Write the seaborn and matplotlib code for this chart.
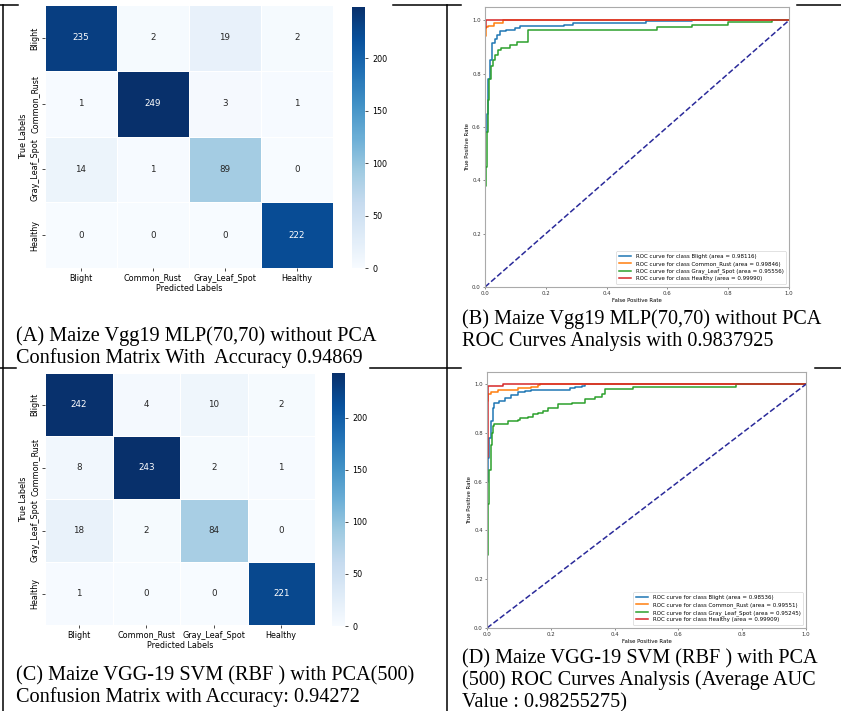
import numpy as np
import seaborn as sns
import matplotlib
matplotlib.use("Agg")
import matplotlib.pyplot as plt
from matplotlib.lines import Line2D

W, H = 841, 711

classes = ["Blight", "Common_Rust", "Gray_Leaf_Spot", "Healthy"]

# confusion matrices
cm_a = [[235, 2, 19, 2],
        [1, 249, 3, 1],
        [14, 1, 89, 0],
        [0, 0, 0, 222]]
cm_c = [[242, 4, 10, 2],
        [8, 243, 2, 1],
        [18, 2, 84, 0],
        [1, 0, 0, 221]]

# ROC curves, panel B (fpr, tpr breakpoints)
b_blight_fpr = [0, 0, 0.005, 0.011, 0.016, 0.022, 0.033, 0.038, 0.049, 0.07, 0.098, 0.115, 0.26, 0.29, 0.53, 0.68, 1.0]
b_blight_tpr = [0, 0.58, 0.65, 0.78, 0.85, 0.915, 0.93, 0.946, 0.96, 0.965, 0.97, 0.98, 0.984, 0.99, 0.996, 1.0, 1.0]
b_rust_fpr = [0, 0, 0.003, 0.01, 0.03, 0.06, 1.0]
b_rust_tpr = [0, 0.94, 0.975, 0.98, 0.99, 1.0, 1.0]
b_gray_fpr = [0, 0, 0.003, 0.005, 0.011, 0.014, 0.02, 0.025, 0.033, 0.044, 0.051, 0.082, 0.104, 0.142, 0.566, 0.68, 0.80, 0.945, 1.0]
b_gray_tpr = [0, 0.38, 0.45, 0.58, 0.70, 0.78, 0.83, 0.85, 0.87, 0.89, 0.896, 0.909, 0.92, 0.962, 0.974, 0.984, 0.9925, 1.0, 1.0]
b_healthy_fpr = [0, 0, 0.003, 0.004, 1.0]
b_healthy_tpr = [0, 0.97, 0.99, 1.0, 1.0]
b_auc = [0.98116, 0.99846, 0.95556, 0.99990]

# ROC curves, panel D
d_blight_fpr = [0, 0, 0.002, 0.007, 0.013, 0.018, 0.023, 0.039, 0.055, 0.076, 0.097, 0.118, 0.139, 0.26, 0.276, 0.297, 0.307, 1.0]
d_blight_tpr = [0, 0.6, 0.697, 0.78, 0.848, 0.903, 0.924, 0.93, 0.945, 0.956, 0.966, 0.972, 0.977, 0.983, 0.989, 0.993, 1.0, 1.0]
d_rust_fpr = [0, 0, 0.004, 0.013, 0.034, 0.097, 0.139, 0.16, 0.166, 1.0]
d_rust_tpr = [0, 0.93, 0.96, 0.97, 0.977, 0.983, 0.99, 0.997, 1.0, 1.0]
d_gray_fpr = [0, 0, 0.002, 0.005, 0.011, 0.015, 0.018, 0.023, 0.065, 0.097, 0.102, 0.129, 0.144, 0.16, 0.176, 0.192, 0.223, 0.265, 0.307, 0.339, 0.36, 0.37, 0.457, 0.78, 1.0]
d_gray_tpr = [0, 0.30, 0.51, 0.65, 0.75, 0.80, 0.83, 0.837, 0.848, 0.855, 0.862, 0.866, 0.876, 0.883, 0.89, 0.903, 0.917, 0.924, 0.938, 0.948, 0.959, 0.979, 0.99, 1.0, 1.0]
d_healthy_fpr = [0, 0, 0.002, 0.004, 0.049, 1.0]
d_healthy_tpr = [0, 0.70, 0.93, 0.993, 1.0, 1.0]
d_auc = [0.98536, 0.99551, 0.95245, 0.99909]

diag = [0.0, 1.0]
roc_colors = ["#1f77b4", "#ff7f0e", "#2ca02c", "#d62728"]

cap_a = ["(A) Maize Vgg19 MLP(70,70) without PCA",
         "Confusion Matrix With  Accuracy 0.94869"]
cap_b = ["(B) Maize Vgg19 MLP(70,70) without PCA",
         "ROC Curves Analysis with 0.9837925"]
cap_c = ["(C) Maize VGG-19 SVM (RBF ) with PCA(500)",
         "Confusion Matrix with Accuracy: 0.94272"]
cap_d = ["(D) Maize VGG-19 SVM (RBF ) with PCA",
         "(500) ROC Curves Analysis (Average AUC",
         "Value : 0.98255275)"]


def box(x0, y0, x1, y1):
    return [x0 / W, 1 - y1 / H, (x1 - x0) / W, (y1 - y0) / H]


def draw_cm(fig, cm, axbox, cbox):
    ax = fig.add_axes(box(*axbox))
    cax = fig.add_axes(box(*cbox))
    sns.heatmap(np.array(cm), annot=True, fmt="d", cmap="Blues", ax=ax, cbar_ax=cax,
                linewidths=0.5, linecolor="white", annot_kws={"fontsize": 6.3},
                xticklabels=classes, yticklabels=classes)
    ax.set_yticklabels(classes, rotation=90, va="center", fontsize=5.8)
    ax.set_xticklabels(classes, rotation=0, fontsize=5.8)
    ax.tick_params(length=2, width=0.5, pad=2)
    ax.set_xlabel("Predicted Labels", fontsize=5.8, labelpad=1)
    ax.set_ylabel("True Labels", fontsize=5.8, labelpad=2)
    cax.tick_params(labelsize=5.8, length=2, width=0.5)
    cax.set_yticks([0, 50, 100, 150, 200])
    ax.collections[0].colorbar.outline.set_visible(False)
    return ax


def draw_roc(fig, axbox, curves, aucs):
    ax = fig.add_axes(box(*axbox))
    for (fpr, tpr), name, auc, col in zip(curves, classes, aucs, roc_colors):
        sns.lineplot(x=fpr, y=tpr, ax=ax, color=col, lw=1.1, sort=False, estimator=None,
                     drawstyle="steps-post",
                     label="ROC curve for class %s (area = %.5f)" % (name, auc))
    sns.lineplot(x=diag, y=diag, ax=ax, color="#2a2a9a", lw=1.1, linestyle="--",
                 sort=False, estimator=None)
    ax.set_xlim(0.0, 1.0)
    ax.set_ylim(0.0, 1.05)
    ax.set_xlabel("False Positive Rate", fontsize=3.9, labelpad=1.5)
    ax.set_ylabel("True Positive Rate", fontsize=3.9, labelpad=1.5)
    ax.tick_params(labelsize=3.9, length=1.5, width=0.4, pad=1.5, colors="#333333")
    for s in ax.spines.values():
        s.set_color("#aaaaaa")
        s.set_linewidth(0.8)
    leg = ax.legend(loc="lower right", fontsize=4.0, handlelength=2.2, borderpad=0.5,
                    labelspacing=0.35, framealpha=1.0)
    leg.get_frame().set_linewidth(0.4)
    return ax


fig = plt.figure(figsize=(W / 100, H / 100), dpi=100)

# table rules
rule_kw = dict(color="black", lw=1.1, transform=fig.transFigure)
for y, segs in [(5, [(0, 18), (393, 461), (797, 841)]),
                (368, [(0, 16), (370, 461), (815, 841)])]:
    for x0, x1 in segs:
        fig.add_artist(Line2D([x0 / W, x1 / W], [1 - y / H, 1 - y / H], **rule_kw))
for x in [2.5, 447]:
    fig.add_artist(Line2D([x / W, x / W], [1 - 5 / H, 0], **rule_kw))

draw_cm(fig, cm_a, (45, 5, 333, 268), (352, 7, 365, 268))
draw_cm(fig, cm_c, (45, 373, 315, 625), (332, 373, 345, 626))

draw_roc(fig, (485, 7, 789, 287),
         [(b_blight_fpr, b_blight_tpr), (b_rust_fpr, b_rust_tpr),
          (b_gray_fpr, b_gray_tpr), (b_healthy_fpr, b_healthy_tpr)], b_auc)
draw_roc(fig, (487, 372, 806, 628),
         [(d_blight_fpr, d_blight_tpr), (d_rust_fpr, d_rust_tpr),
          (d_gray_fpr, d_gray_tpr), (d_healthy_fpr, d_healthy_tpr)], d_auc)

# captions
txt_kw = dict(fontfamily="Liberation Serif", fontsize=14.6, va="baseline", ha="left")
for x, y0, lines in [(16, 341, cap_a), (462, 324, cap_b), (16, 680, cap_c), (462, 663, cap_d)]:
    for i, line in enumerate(lines):
        fig.text(x / W, 1 - (y0 + 22 * i) / H, line, **txt_kw)

fig.savefig("out.png", dpi=100)
